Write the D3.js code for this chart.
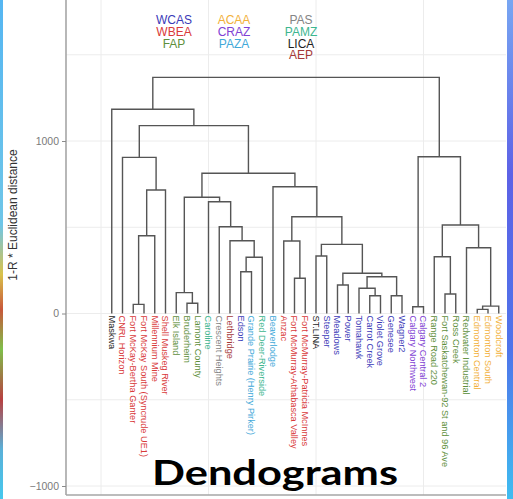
<!DOCTYPE html>
<html><head><meta charset="utf-8">
<script src="https://cdn.jsdelivr.net/npm/d3@7"></script>
<style>body{margin:0;background:#fff;overflow:hidden}svg{display:block}</style>
</head><body>
<script>
// ---- data ----
const leafNames = ["Maskwa","CNRL Horizon","Fort McKay-Bertha Ganter","Fort McKay South (Syncrude UE1)","Millennium Mine","Shell Muskeg River","Elk Island","Bruderheim","Lamont County","Caroline","Crescent Heights","Lethbridge","Edson","Grande Prairie (Henry Pirker)","Red Deer-Riverside","Beaverlodge","Anzac","Fort McMurray-Athabasca Valley","Fort McMurray-Patricia McInnes","ST.LINA","Steeper","Meadows","Power","Tomahawk","Carrot Creek","Violet Grove","Genesee","Wagner2","Calgary Northwest","Calgary Central 2","Range Road 220","Fort Saskatchewan-92 St and 96 Ave","Ross Creek","Redwater Industrial","Edmonton Central","Edmonton South","Woodcroft"];
const leafNetworks = ["LICA","WBEA","WBEA","WBEA","WBEA","WBEA","FAP","FAP","FAP","PAMZ","PAS","AEP","WCAS","PAZA","PAMZ","PAZA","WBEA","WBEA","WBEA","LICA","WCAS","WCAS","WCAS","WCAS","WCAS","WCAS","WCAS","WCAS","CRAZ","CRAZ","FAP","FAP","FAP","FAP","ACAA","ACAA","ACAA"];
const networks = ["WCAS","WBEA","FAP","ACAA","CRAZ","PAZA","PAS","PAMZ","LICA","AEP"];
const networkColors = ["#3a3ab8","#d93a3a","#5e8f3c","#f2b13a","#7f42d4","#3fa9d9","#858585","#3db68f","#1e1e1e","#a53838"];
// hclust-style merges: negative = leaf (1-based display order), positive = earlier merge
const mergeLeft  = [-35,-29,1,-3,-8,-25,-27,-32,-7,-24,-22,-18,10,11,-13,15,-31,-20,-34,18,-17,-12,4,-11,17,21,-10,9,23,-16,28,-2,2,32,-1,35];
const mergeRight = [-36,-30,-37,-4,-9,-26,-28,-33,5,6,-23,-19,7,13,-14,-15,8,-21,3,14,12,16,-5,22,19,20,24,27,-6,26,30,29,25,31,34,33];
const mergeHeights = [24,39,43,53,59,103,103,113,121,146,165,204,213,233,242,326,329,333,381,401,420,422,451,503,513,561,648,674,716,735,813,905,909,1089,1184,1369];
const yTicks = [1000,0,-1000];
const yGrid = [-1000,-500,0,500,1000,1500];
const xGrid = [0,10,20,30,40];
const yTitle = "1-R * Euclidean distance";
const chartTitle = "Dendograms";

// ---- layout ----
const W = 513, H = 499;
const panel = {left:66, right:506, top:0, bottom:495};
const x = d3.scaleLinear().domain([0,40]).range([101,531]);
const y = d3.scaleLinear().domain([-1000,1000]).range([486,141]);
const color = d3.scaleOrdinal().domain(networks).range(networkColors);

const svg = d3.select("body").append("svg").attr("width",W).attr("height",H);
const defs = svg.append("defs");
defs.append("clipPath").attr("id","pc").append("rect")
  .attr("x",panel.left).attr("y",panel.top).attr("width",panel.right-panel.left).attr("height",panel.bottom-panel.top);

// side decorations of slide
const gl = defs.append("linearGradient").attr("id","gl").attr("x1",0).attr("x2",0).attr("y1",0).attr("y2",1);
[["0","#55b6f2"],["0.45","#6fc6e8"],["0.55","#d9c24a"],["0.62","#c8583a"],["0.7","#7fbf4a"],["0.8","#b84040"],["0.9","#5ab0d8"],["1","#45c8ee"]].forEach(s=>gl.append("stop").attr("offset",s[0]).attr("stop-color",s[1]));
const gr = defs.append("linearGradient").attr("id","gr").attr("x1",0).attr("x2",0).attr("y1",0).attr("y2",1);
[["0","#78a6f2"],["0.35","#5d62e6"],["0.7","#4f74ea"],["1","#3fbdf0"]].forEach(s=>gr.append("stop").attr("offset",s[0]).attr("stop-color",s[1]));
svg.append("rect").attr("x",0).attr("y",0).attr("width",3).attr("height",H).attr("fill","url(#gl)");
svg.append("rect").attr("x",507).attr("y",0).attr("width",6).attr("height",H).attr("fill","url(#gr)");

// gridlines
const grid = svg.append("g").attr("clip-path","url(#pc)").attr("stroke","#ececec").attr("stroke-width",1);
grid.selectAll("line.gy").data(yGrid).join("line").attr("x1",panel.left).attr("x2",panel.right)
  .attr("y1",d=>y(d)).attr("y2",d=>y(d));
grid.selectAll("line.gx").data(xGrid).join("line").attr("y1",panel.top).attr("y2",panel.bottom)
  .attr("x1",d=>x(d)).attr("x2",d=>x(d));

// axes lines
svg.append("line").attr("x1",panel.left).attr("x2",panel.left).attr("y1",0).attr("y2",panel.bottom).attr("stroke","#a6a6a6").attr("stroke-width",1.6);
svg.append("line").attr("x1",panel.left).attr("x2",panel.right).attr("y1",panel.bottom).attr("y2",panel.bottom).attr("stroke","#a6a6a6").attr("stroke-width",1.6);
const yAxis = d3.axisLeft(y).tickValues(yTicks).tickFormat(d3.format("d")).tickSize(4).tickPadding(3);
const ga = svg.append("g").attr("transform",`translate(${panel.left},0)`).call(yAxis);
ga.select(".domain").remove();
ga.selectAll("line").attr("stroke","#8a8a8a");
ga.selectAll("text").attr("fill","#7a7a7a").style("font-family","'Liberation Sans',Arial,sans-serif").style("font-size","10.5px");
svg.append("text").attr("transform","translate(17,215) rotate(-90)").attr("text-anchor","middle")
  .style("font-family","'Liberation Sans',Arial,sans-serif").style("font-size","12px").attr("fill","#333").text(yTitle);

// dendrogram
const nodeX = [], nodeH = [];
function cx(id){ return id<0 ? x(-id) : nodeX[id-1]; }
function ch(id){ return id<0 ? 0 : nodeH[id-1]; }
const segs = [];
mergeHeights.forEach((h,i)=>{
  const a = mergeLeft[i], b = mergeRight[i];
  const xa = cx(a), xb = cx(b);
  nodeX.push((xa+xb)/2); nodeH.push(h);
  segs.push({xa, xb, ha:ch(a), hb:ch(b), h});
});
svg.append("g").attr("fill","none").attr("stroke","#555").attr("stroke-width",1.4)
  .selectAll("path").data(segs).join("path")
  .attr("d",d=>`M${d.xa},${y(d.ha)}V${y(d.h)}H${d.xb}V${y(d.hb)}`);

// leaf labels
svg.append("g").selectAll("text").data(leafNames).join("text")
  .attr("transform",(d,i)=>`translate(${x(i+1)},${y(0)+2}) rotate(90)`)
  .attr("dy","0.35em").attr("text-anchor","start")
  .style("font-family","'Liberation Sans',Arial,sans-serif").style("font-size","9.2px")
  .attr("fill",(d,i)=>color(leafNetworks[i])).text(d=>d);

// legend (network names)
const legCols = [[0,1,2],[3,4,5],[6,7,8,9]];
const legX = [174,234,301];
legCols.forEach((col,ci)=>{
  svg.append("g").selectAll("text").data(col).join("text")
    .attr("x",legX[ci]).attr("y",(d,j)=>24.3+j*11.7).attr("text-anchor","middle")
    .style("font-family","'Liberation Sans',Arial,sans-serif").style("font-size","12px")
    .attr("fill",d=>networkColors[d]).text(d=>networks[d]);
});

// slide title
svg.append("text").attr("x",152).attr("y",485).attr("textLength",246).attr("lengthAdjust","spacingAndGlyphs")
  .style("font-family","Lato,'Open Sans',sans-serif").style("font-weight","700").style("font-size","35px")
  .attr("fill","#000").text(chartTitle);
</script>
</body></html>
